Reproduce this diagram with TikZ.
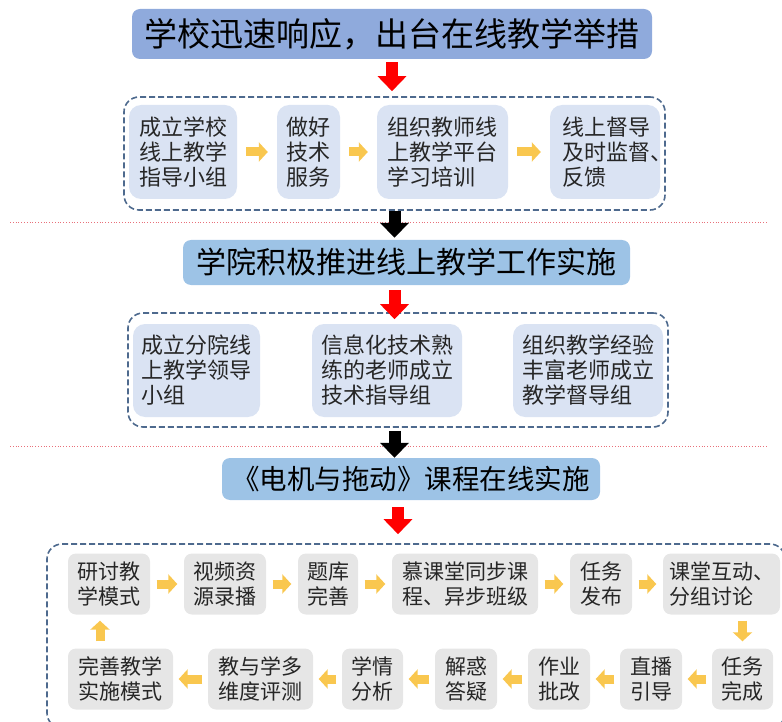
\documentclass[tikz,border=0pt]{standalone}
\usepackage{fontspec}
\setmainfont{Noto Sans CJK SC}
\usetikzlibrary{arrows.meta}

\definecolor{bannerdark}{HTML}{8FAADC}
\definecolor{bannerlight}{HTML}{9DC3E6}
\definecolor{boxblue}{HTML}{DAE3F3}
\definecolor{boxgrey}{HTML}{E6E6E6}
\definecolor{dashblue}{HTML}{4E6A8E}
\definecolor{arrowyellow}{HTML}{F9C74F}
\definecolor{sepred}{HTML}{E8707A}

\tikzset{
    banner/.style={rounded corners=8pt, inner sep=0pt, text=black},
    groupbox/.style={draw=dashblue, line width=1.6pt, dash pattern=on 6pt off 3pt, rounded corners=15pt},
    bluebox/.style={fill=boxblue, rounded corners=12pt, inner sep=0pt, align=left,
        text=black!85, font=\fontsize{22pt}{25pt}\selectfont},
    greybox/.style={fill=boxgrey, rounded corners=8pt, inner sep=0pt, minimum height=61pt, align=left,
        text=black!85, font=\fontsize{21pt}{25pt}\selectfont},
    yarrow/.style={draw=arrowyellow, line width=9pt, -{Triangle[length=9pt,width=19pt]}},
    bigarrow/.style={line width=12pt, -{Triangle[length=15pt,width=28pt]}},
    sepline/.style={draw=sepred, dotted, line width=0.8pt}
}

\begin{document}
\begin{tikzpicture}[x=1pt, y=-1pt, line join=round]
    \useasboundingbox (0,0) rectangle (782,722);
    \clip (0,0) rectangle (782,722);

    \draw[sepline] (10,222) -- (768,222);
    \draw[sepline] (10,446) -- (768,446);

    % school
    \node[banner, fill=bannerdark, minimum width=520pt, minimum height=50pt,
        font=\fontsize{33pt}{36pt}\selectfont] (banner1) at (392,34) {学校迅速响应，出台在线教学举措};
    \node[groupbox, minimum width=541pt, minimum height=113pt] (group1) at (394.5,153.5) {};
    \node[bluebox, minimum width=108pt, minimum height=94pt] (s1) at (183,152) {成立学校\\线上教学\\指导小组};
    \node[bluebox, minimum width=63pt, minimum height=94pt] (s2) at (308.5,152) {做好\\技术\\服务};
    \node[bluebox, minimum width=131pt, minimum height=94pt] (s3) at (442.5,152) {组织教师线\\上教学平台\\学习培训};
    \node[bluebox, minimum width=110pt, minimum height=94pt, text width=86pt] (s4) at (605,152) {线上督导\\及时监督、\\反馈};
    \foreach \a/\b in {s1/s2, s2/s3, s3/s4}
        \draw[yarrow, shorten <=9pt, shorten >=9pt] (\a) -- (\b);

    % college
    \node[banner, fill=bannerlight, minimum width=447pt, minimum height=45pt,
        font=\fontsize{30pt}{33pt}\selectfont] (banner2) at (406.5,262.5) {学院积极推进线上教学工作实施};
    \node[groupbox, minimum width=540pt, minimum height=114pt] (group2) at (398,370) {};
    \node[bluebox, minimum width=127pt, minimum height=93pt] (c1) at (196.5,370.5) {成立分院线\\上教学领导\\小组};
    \node[bluebox, minimum width=150pt, minimum height=93pt] (c2) at (387,370.5) {信息化技术熟\\练的老师成立\\技术指导组};
    \node[bluebox, minimum width=150pt, minimum height=93pt] (c3) at (588,370.5) {组织教学经验\\丰富老师成立\\教学督导组};

    % course
    \node[banner, fill=bannerlight, minimum width=378pt, minimum height=42pt,
        font=\fontsize{27.5pt}{30pt}\selectfont] (banner3) at (411,479) {《电机与拖动》课程在线实施};
    \node[groupbox, minimum width=738pt, minimum height=184pt] (group3) at (416,636) {};

    \node[greybox, minimum width=82pt] (k1) at (109,584) {研讨教\\学模式};
    \node[greybox, minimum width=82pt] (k2) at (225,584) {视频资\\源录播};
    \node[greybox, minimum width=60pt] (k3) at (328,584) {题库\\完善};
    \node[greybox, minimum width=146pt] (k4) at (465,584) {慕课堂同步课\\程、异步班级};
    \node[greybox, minimum width=62pt] (k5) at (601,584) {任务\\发布};
    \node[greybox, minimum width=117pt] (k6) at (721.5,584) {课堂互动、\\分组讨论};

    \node[greybox, minimum width=61pt] (k7) at (742.5,679) {任务\\完成};
    \node[greybox, minimum width=62pt] (k8) at (651,679) {直播\\引导};
    \node[greybox, minimum width=62pt] (k9) at (559,679) {作业\\批改};
    \node[greybox, minimum width=62pt] (k10) at (466,679) {解惑\\答疑};
    \node[greybox, minimum width=61pt] (k11) at (372.5,679) {学情\\分析};
    \node[greybox, minimum width=105pt] (k12) at (260.5,679) {教与学多\\维度评测};
    \node[greybox, minimum width=105pt] (k13) at (120.5,679) {完善教学\\实施模式};

    \foreach \a/\b in {k1/k2, k2/k3, k3/k4, k4/k5, k5/k6}
        \draw[yarrow, shorten <=6.5pt, shorten >=6.5pt] (\a) -- (\b);
    \foreach \a/\b in {k7/k8, k8/k9, k9/k10, k10/k11, k11/k12, k12/k13}
        \draw[yarrow, shorten <=5.5pt, shorten >=5.5pt] (\a) -- (\b);
    \draw[yarrow, shorten <=6pt, shorten >=7pt] (k7.north |- k6.south) -- (k7.north);
    \draw[yarrow, shorten <=7pt, shorten >=6pt] ([xshift=-9pt]k1.south |- k13.north) -- ([xshift=-9pt]k1.south);

    % between levels
    \draw[bigarrow, red, shorten <=3pt, shorten >=5pt] (banner1.south) -- (banner1.south |- group1.north);
    \draw[bigarrow, black, shorten >=2pt] (group1.south) -- (group1.south |- banner2.north);
    \draw[bigarrow, red, shorten <=5pt, shorten >=-7pt] (group1.south |- banner2.south) -- (group1.south |- group2.north);
    \draw[bigarrow, black, shorten <=3pt] (group1.south |- group2.south) -- (group1.south |- banner3.north);
    \draw[bigarrow, red, shorten <=7pt, shorten >=9pt] (group2.south |- banner3.south) -- (group2.south |- group3.north);
\end{tikzpicture}
\end{document}
